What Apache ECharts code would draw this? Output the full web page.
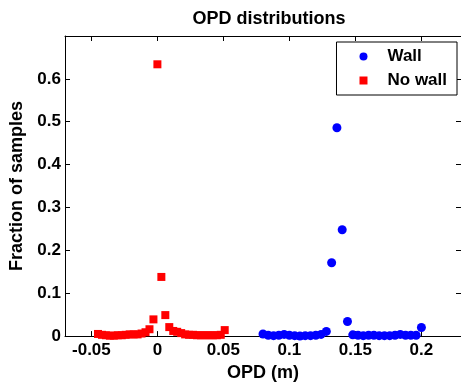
<!DOCTYPE html>
<html>
<head>
<meta charset="utf-8">
<script src="https://cdn.jsdelivr.net/npm/echarts@6/dist/echarts.min.js"></script>
<style>
  html, body { margin: 0; padding: 0; background: #fff; }
  #chart { width: 461px; height: 387px; }
</style>
</head>
<body>
<div id="chart"></div>
<script>
// OPD values (m) and fraction of samples
const wallX = [0.080, 0.084, 0.088, 0.092, 0.096, 0.100, 0.104, 0.108, 0.112, 0.116,
  0.120, 0.124, 0.128, 0.132, 0.136, 0.140, 0.144, 0.148, 0.152, 0.156,
  0.160, 0.164, 0.168, 0.172, 0.176, 0.180, 0.184, 0.188, 0.192, 0.196, 0.200];
const wallY = [0.005, 0.002, 0.001, 0.002, 0.004, 0.002, 0.001, 0.000, 0.001, 0.001,
  0.002, 0.004, 0.011, 0.171, 0.486, 0.248, 0.034, 0.003, 0.002, 0.001,
  0.002, 0.002, 0.001, 0.001, 0.001, 0.002, 0.004, 0.002, 0.002, 0.002, 0.020];

const noWallX = [-0.045, -0.042, -0.039, -0.036, -0.033, -0.030, -0.027, -0.024, -0.021, -0.018,
  -0.015, -0.012, -0.009, -0.006, -0.003, 0.000, 0.003, 0.006, 0.009, 0.012,
  0.015, 0.018, 0.021, 0.024, 0.027, 0.030, 0.033, 0.036, 0.039, 0.042,
  0.045, 0.048, 0.051];
const noWallY = [0.005, 0.003, 0.002, 0.001, 0.001, 0.002, 0.002, 0.003, 0.004, 0.004,
  0.004, 0.006, 0.009, 0.016, 0.039, 0.634, 0.138, 0.049, 0.021, 0.012,
  0.010, 0.007, 0.004, 0.003, 0.003, 0.002, 0.002, 0.002, 0.002, 0.002,
  0.002, 0.003, 0.014];

const xRange = [-0.07, 0.23];
const yRange = [0, 0.7];
const yStep = 0.1;

const pairs = (xs, ys) => xs.map((x, i) => [x, ys[i]]);

const font = 'Liberation Sans, Arial, sans-serif';
const black = '#000';
// square legend icon that keeps its aspect inside the wide legend slot
const squareIcon = 'path://M0,0L10,0L10,10L0,10Z';

const baseAxis = {
  axisLine: { show: true, onZero: false, lineStyle: { color: black, width: 1 } },
  axisTick: { show: true, inside: true, length: 5, lineStyle: { color: black } },
  splitLine: { show: false }
};

const chart = echarts.init(document.getElementById('chart'));

chart.setOption({
  animation: false,
  backgroundColor: '#fff',
  title: {
    text: 'OPD distributions',
    left: 264,
    textAlign: 'center',
    top: 5,
    textStyle: { fontFamily: font, fontSize: 18, fontWeight: 'bold', color: black }
  },
  legend: {
    orient: 'vertical',
    right: 4,
    top: 42,
    padding: [6, 10, 6, 23],
    itemGap: 7,
    itemWidth: 38,
    itemHeight: 8,
    symbolKeepAspect: true,
    borderColor: black,
    borderWidth: 1,
    backgroundColor: '#fff',
    textStyle: { fontFamily: font, fontSize: 17, fontWeight: 'bold', color: black },
    data: [
      { name: 'Wall', icon: 'circle' },
      { name: 'No wall', icon: squareIcon }
    ]
  },
  grid: { left: 65, top: 36, width: 398, height: 306 },
  xAxis: [
    Object.assign({}, baseAxis, {
      type: 'value',
      min: xRange[0],
      max: xRange[1],
      splitNumber: 6,
      name: 'OPD (m)',
      nameLocation: 'middle',
      nameGap: 25,
      nameTextStyle: { fontFamily: font, fontSize: 18, fontWeight: 'bold', color: black },
      axisLabel: {
        margin: 6, showMinLabel: false, showMaxLabel: false,
        fontFamily: font, fontSize: 17, fontWeight: 'bold', color: black
      }
    }),
    Object.assign({}, baseAxis, {
      type: 'value',
      position: 'top',
      min: xRange[0],
      max: xRange[1],
      splitNumber: 6,
      axisLabel: { show: false }
    })
  ],
  yAxis: [
    Object.assign({}, baseAxis, {
      type: 'value',
      min: yRange[0],
      max: yRange[1],
      interval: yStep,
      name: 'Fraction of samples',
      nameLocation: 'middle',
      nameGap: 37,
      nameTextStyle: { fontFamily: font, fontSize: 18, fontWeight: 'bold', color: black },
      axisLabel: {
        margin: 4, showMaxLabel: false,
        fontFamily: font, fontSize: 17, fontWeight: 'bold', color: black
      }
    }),
    Object.assign({}, baseAxis, {
      type: 'value',
      position: 'right',
      min: yRange[0],
      max: yRange[1],
      interval: yStep,
      axisLabel: { show: false }
    })
  ],
  series: [
    {
      name: 'Wall',
      type: 'scatter',
      symbol: 'circle',
      symbolSize: 9,
      itemStyle: { color: '#0000ff', opacity: 1 },
      data: pairs(wallX, wallY)
    },
    {
      name: 'No wall',
      type: 'scatter',
      symbol: 'rect',
      symbolSize: 8,
      itemStyle: { color: '#ff0000', opacity: 1 },
      data: pairs(noWallX, noWallY)
    }
  ]
});
</script>
</body>
</html>
